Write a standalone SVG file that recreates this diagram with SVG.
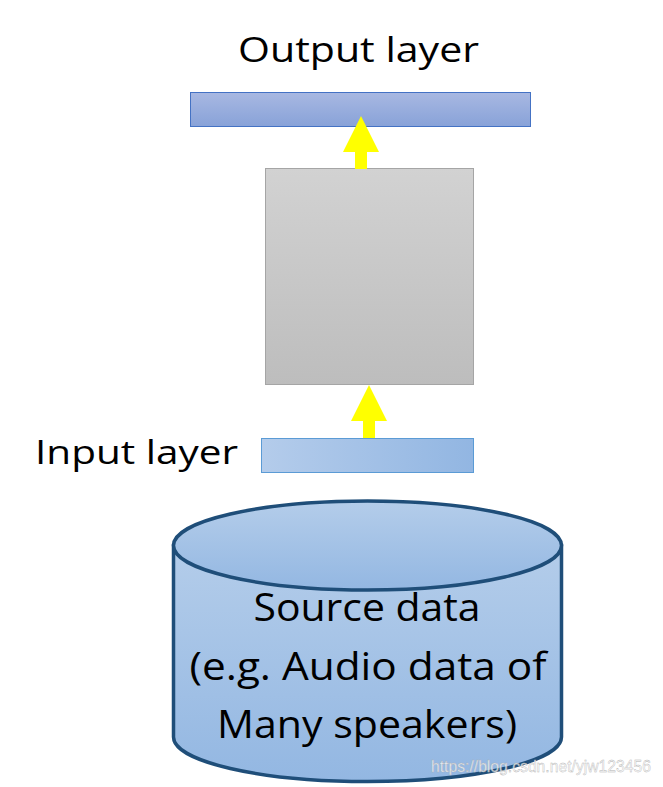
<svg xmlns="http://www.w3.org/2000/svg" width="663" height="787" viewBox="0 0 663 787">
<defs>
<linearGradient id="gOut" x1="0" y1="0" x2="0" y2="1"><stop offset="0" stop-color="#a8b8e2"/><stop offset="1" stop-color="#88a2d8"/></linearGradient>
<linearGradient id="gMid" x1="0" y1="0" x2="0" y2="1"><stop offset="0" stop-color="#d2d2d2"/><stop offset="1" stop-color="#bdbdbd"/></linearGradient>
<linearGradient id="gIn" x1="0" y1="0" x2="1" y2="0"><stop offset="0" stop-color="#b4cceb"/><stop offset="1" stop-color="#92b6e2"/></linearGradient>
<linearGradient id="gCyl" x1="0" y1="0" x2="0" y2="1"><stop offset="0" stop-color="#b4cdea"/><stop offset="1" stop-color="#93b7e2"/></linearGradient>
</defs>
<style>
.lbl{font-family:"Open Sans","Liberation Sans",sans-serif;fill:#000}
.arrow{fill:#ffff00;stroke:none}
.cyl{fill:url(#gCyl);stroke:#1f4e79;stroke-width:3.5}
</style>
<rect width="663" height="787" fill="#ffffff"/>
<g id="output-layer">
<rect x="190.5" y="92.5" width="340" height="34" fill="url(#gOut)" stroke="#4472c4" stroke-width="1"/>
<text class="lbl" x="238" y="61.5" font-size="34" textLength="241" lengthAdjust="spacingAndGlyphs">Output layer</text>
</g>
<g id="hidden-block">
<rect x="265.5" y="168.5" width="208" height="216" fill="url(#gMid)" stroke="#a5a5a5" stroke-width="1"/>
</g>
<g id="input-layer">
<rect x="261.5" y="438.5" width="212" height="34" fill="url(#gIn)" stroke="#5b9bd5" stroke-width="1"/>
<text class="lbl" x="35" y="463.5" font-size="33" textLength="203" lengthAdjust="spacingAndGlyphs">Input layer</text>
</g>
<g id="source-data">
<path class="cyl" d="M173.5,545.5 L173.5,737 A194,44.5 0 0 0 561.5,737 L561.5,545.5 Z"/>
<ellipse class="cyl" cx="367.5" cy="545.5" rx="194" ry="44.5"/>
<text class="lbl" x="253.5" y="621" font-size="38" textLength="227" lengthAdjust="spacingAndGlyphs">Source data</text>
<text class="lbl" x="189.5" y="679.5" font-size="38" textLength="357" lengthAdjust="spacingAndGlyphs">(e.g. Audio data of</text>
<text class="lbl" x="217" y="738" font-size="38" textLength="300" lengthAdjust="spacingAndGlyphs">Many speakers)</text>
</g>
<g id="connectors">
<polygon class="arrow" points="361,116 379,152 367,152 367,169 355,169 355,152 343,152"/>
<polygon class="arrow" points="369,385 387,421 375,421 375,438 363,438 363,421 351,421"/>
</g>
<text x="431" y="772" font-family="Liberation Sans, Arial, sans-serif" font-size="17" fill="#ffffff" fill-opacity="0.75" stroke="#b0b0b0" stroke-width="0.4" textLength="220" lengthAdjust="spacingAndGlyphs">https://blog.csdn.net/yjw123456</text>
</svg>
